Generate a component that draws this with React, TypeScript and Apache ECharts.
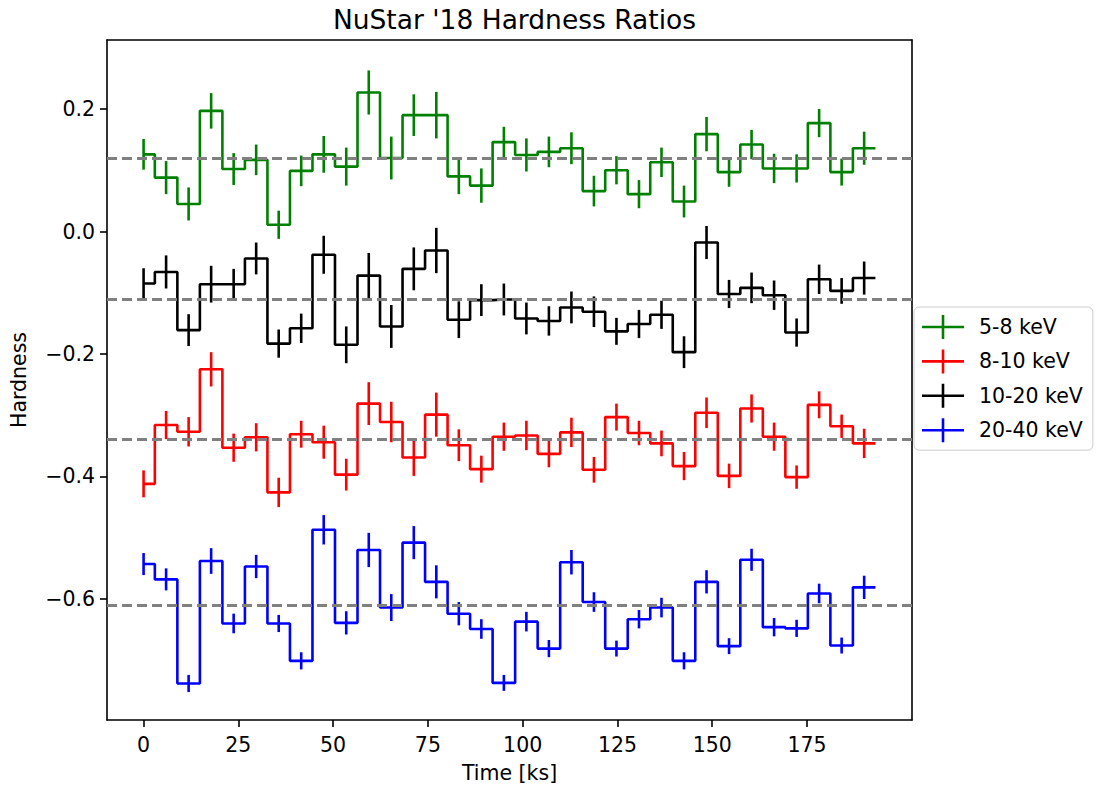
import React, { useEffect, useRef } from "react";
import * as echarts from "echarts";

// Bin centres of the light-curve segments, in ks
const timeKs = [
  0, 5.94, 11.88, 17.82, 23.76, 29.7, 35.64, 41.58, 47.52, 53.46, 59.4,
  65.34, 71.28, 77.22, 83.16, 89.1, 95.04, 100.98, 106.92, 112.86, 118.8,
  124.74, 130.68, 136.62, 142.56, 148.5, 154.44, 160.38, 166.32, 172.26,
  178.2, 184.14, 190.08,
];

const bandNames = ["5-8 keV", "8-10 keV", "10-20 keV", "20-40 keV"];
const bandColors = ["#008000", "#ff0000", "#000000", "#0000ff"];

// Hardness ratio per bin and its 1-sigma error, one pair of arrays per band
const hard5to8 = [
  0.126, 0.088, 0.045, 0.197, 0.102, 0.117, 0.011, 0.099, 0.126, 0.106, 0.227,
  0.12, 0.19, 0.19, 0.09, 0.075, 0.146, 0.125, 0.13, 0.136, 0.066, 0.1, 0.061,
  0.113, 0.049, 0.159, 0.097, 0.142, 0.103, 0.103, 0.177, 0.097, 0.136,
];
const err5to8 = [
  0.025, 0.027, 0.027, 0.029, 0.026, 0.025, 0.023, 0.025, 0.03, 0.031, 0.036,
  0.035, 0.034, 0.038, 0.029, 0.028, 0.025, 0.027, 0.025, 0.026, 0.025, 0.023,
  0.023, 0.024, 0.026, 0.028, 0.024, 0.024, 0.024, 0.023, 0.023, 0.022, 0.027,
];

const hard8to10 = [
  -0.412, -0.316, -0.327, -0.225, -0.353, -0.336, -0.426, -0.331, -0.344,
  -0.397, -0.281, -0.311, -0.369, -0.299, -0.349, -0.388, -0.335, -0.333,
  -0.363, -0.328, -0.389, -0.303, -0.329, -0.346, -0.383, -0.296, -0.399,
  -0.289, -0.335, -0.401, -0.283, -0.318, -0.346,
];
const err8to10 = [
  0.022, 0.023, 0.024, 0.028, 0.023, 0.023, 0.024, 0.022, 0.027, 0.026, 0.035,
  0.033, 0.03, 0.036, 0.026, 0.022, 0.023, 0.024, 0.022, 0.024, 0.021, 0.022,
  0.02, 0.021, 0.023, 0.025, 0.02, 0.023, 0.023, 0.019, 0.022, 0.019, 0.024,
];

const hard10to20 = [
  -0.085, -0.066, -0.161, -0.086, -0.086, -0.044, -0.183, -0.158, -0.038,
  -0.185, -0.072, -0.155, -0.061, -0.031, -0.144, -0.112, -0.111, -0.142,
  -0.146, -0.124, -0.131, -0.163, -0.151, -0.136, -0.197, -0.018, -0.102,
  -0.092, -0.104, -0.165, -0.078, -0.097, -0.076,
];
const err10to20 = [
  0.025, 0.027, 0.026, 0.03, 0.025, 0.026, 0.023, 0.024, 0.031, 0.03, 0.037,
  0.035, 0.035, 0.037, 0.03, 0.026, 0.026, 0.026, 0.024, 0.026, 0.025, 0.022,
  0.023, 0.023, 0.026, 0.027, 0.023, 0.025, 0.024, 0.023, 0.024, 0.021, 0.027,
];

const hard20to40 = [
  -0.543, -0.568, -0.738, -0.538, -0.64, -0.547, -0.64, -0.701, -0.487,
  -0.639, -0.52, -0.614, -0.508, -0.572, -0.624, -0.649, -0.737, -0.637,
  -0.681, -0.54, -0.605, -0.681, -0.633, -0.614, -0.701, -0.572, -0.677,
  -0.536, -0.646, -0.648, -0.591, -0.676, -0.581,
];
const err20to40 = [
  0.018, 0.018, 0.014, 0.021, 0.016, 0.019, 0.014, 0.014, 0.024, 0.019, 0.028,
  0.022, 0.027, 0.027, 0.019, 0.016, 0.013, 0.016, 0.014, 0.02, 0.016, 0.013,
  0.015, 0.016, 0.014, 0.019, 0.013, 0.018, 0.015, 0.014, 0.016, 0.013, 0.019,
];

// Mean hardness of each band (dashed reference lines)
const meanLevels = [0.118, -0.34, -0.112, -0.614];

const xTicks = [0, 25, 50, 75, 100, 125, 150, 175];
const yTicks = [-0.6, -0.4, -0.2, 0.0, 0.2];

const bandValues = [hard5to8, hard8to10, hard10to20, hard20to40];
const bandErrors = [err5to8, err8to10, err10to20, err20to40];

const FONT = "DejaVu Sans";
const LINE_W = 2.6;

// Legend handle: horizontal step line crossed by an error bar
const handleIcon =
  "path://M0,10.7L42,10.7L42,13.3L0,13.3Z M19.7,0L22.3,0L22.3,24L19.7,24Z";

const fmtY = (v: number) => {
  const s = Math.abs(v).toFixed(1);
  return v < -1e-9 ? "\u2212" + s : s;
};

export default function App() {
  const ref = useRef<HTMLDivElement>(null);

  useEffect(() => {
    if (!ref.current) return;
    const chart = echarts.init(ref.current, undefined, { renderer: "svg" });
    const halfBin = (timeKs[1] - timeKs[0]) / 2;
    const last = timeKs.length - 1;

    const series: any[] = [];
    bandValues.forEach((vals, k) => {
      const color = bandColors[k];
      const stepData = timeKs.map((t, i) => [t, vals[i]]);
      stepData.push([timeKs[last] + halfBin, vals[last]]);
      series.push({
        type: "line",
        name: bandNames[k],
        data: stepData,
        step: "middle",
        symbol: "none",
        showSymbol: false,
        silent: true,
        z: 2,
        lineStyle: { color, width: LINE_W },
        itemStyle: { color },
        markLine: {
          silent: true,
          symbol: ["none", "none"],
          label: { show: false },
          lineStyle: { color: "#808080", width: 3, type: [10, 5] },
          data: [{ yAxis: meanLevels[k] }],
        },
      });
      const errs = bandErrors[k];
      series.push({
        type: "custom",
        silent: true,
        z: 3,
        data: timeKs.map((t, i) => [t, vals[i] - errs[i], vals[i] + errs[i]]),
        encode: { x: 0, y: [1, 2] },
        renderItem: (_params: any, api: any) => {
          const hi = api.coord([api.value(0), api.value(2)]);
          const lo = api.coord([api.value(0), api.value(1)]);
          return {
            type: "line",
            shape: { x1: hi[0], y1: hi[1], x2: lo[0], y2: lo[1] },
            style: { stroke: color, lineWidth: LINE_W },
          };
        },
      });
    });

    const axisLine = { show: true, onZero: false, lineStyle: { color: "#000", width: 1.6 } };
    const labelStyle = { color: "#000", fontSize: 20.5, fontFamily: FONT };

    chart.setOption({
      animation: false,
      backgroundColor: "#ffffff",
      title: {
        text: "NuStar '18 Hardness Ratios",
        left: 509.5,
        top: 1,
        textAlign: "center",
        textStyle: { fontSize: 26.5, fontWeight: "normal", fontFamily: FONT, color: "#000" },
      },
      grid: {
        left: 107,
        right: 197,
        top: 40,
        bottom: 71,
        containLabel: false,
        outerBoundsMode: "none",
      },
      legend: {
        orient: "vertical",
        left: 914,
        top: 307,
        itemWidth: 42,
        itemHeight: 24,
        itemGap: 10.4,
        padding: [8, 10, 8, 8],
        borderColor: "#cccccc",
        borderWidth: 1,
        borderRadius: 5,
        backgroundColor: "rgba(255,255,255,0.8)",
        itemStyle: { borderWidth: 0 },
        textStyle: { ...labelStyle, padding: [0, 0, 0, 10] },
        data: bandNames.map((n) => ({ name: n, icon: handleIcon })),
      },
      xAxis: [
        {
          type: "value",
          min: -9.65,
          max: 202.7,
          position: "bottom",
          axisLine,
          axisTick: {
            show: true,
            length: 7,
            lineStyle: { color: "#000", width: 1.6 },
            customValues: xTicks,
          },
          axisLabel: { ...labelStyle, margin: 14, customValues: xTicks },
          splitLine: { show: false },
          name: "Time [ks]",
          nameLocation: "middle",
          nameGap: 42.5,
          nameTextStyle: labelStyle,
        },
        {
          type: "value",
          min: -9.65,
          max: 202.7,
          position: "top",
          axisLine,
          axisTick: { show: false },
          axisLabel: { show: false },
          splitLine: { show: false },
        },
      ],
      yAxis: [
        {
          type: "value",
          min: -0.7976,
          max: 0.3127,
          position: "left",
          axisLine,
          axisTick: {
            show: true,
            length: 7,
            lineStyle: { color: "#000", width: 1.6 },
            customValues: yTicks,
          },
          axisLabel: { ...labelStyle, margin: 12, customValues: yTicks, formatter: fmtY },
          splitLine: { show: false },
          name: "Hardness",
          nameLocation: "middle",
          nameGap: 78,
          nameRotate: 90,
          nameTextStyle: labelStyle,
        },
        {
          type: "value",
          min: -0.7976,
          max: 0.3127,
          position: "right",
          axisLine,
          axisTick: { show: false },
          axisLabel: { show: false },
          splitLine: { show: false },
        },
      ],
      series,
    });

    return () => chart.dispose();
  }, []);

  return (
    <div
      ref={ref}
      style={{ position: "fixed", left: 0, top: 0, width: 1109, height: 791, background: "#fff" }}
    />
  );
}
